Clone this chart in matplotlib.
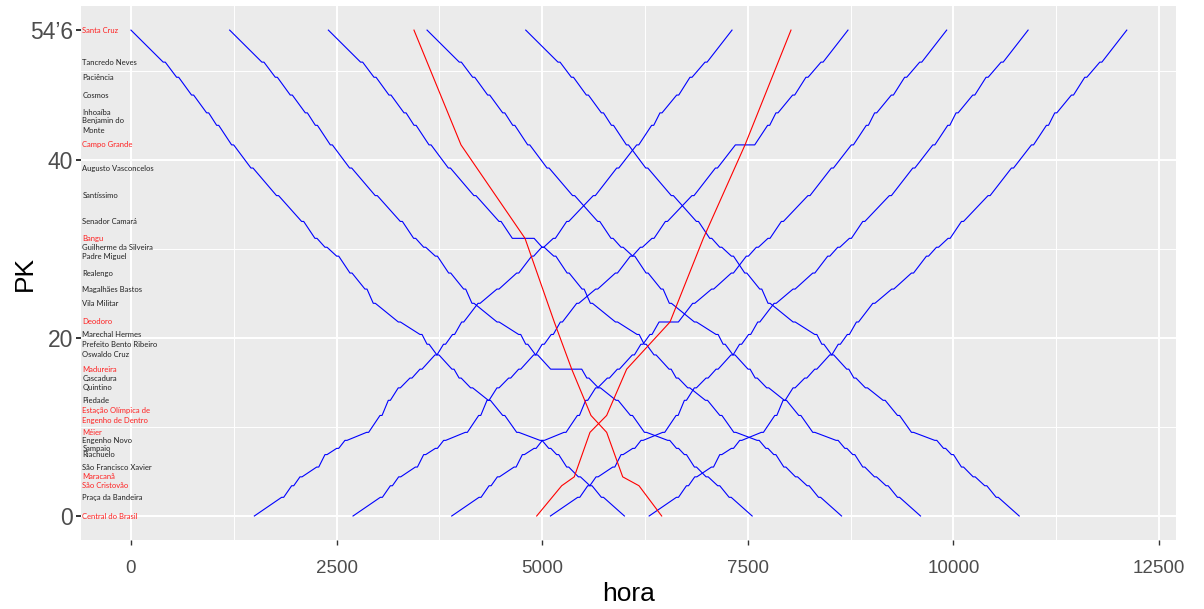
import matplotlib.pyplot as plt

# stations from Central do Brasil (PK 0) up to Santa Cruz
stations = ['Central do Brasil', 'Praça da Bandeira', 'São Cristovão', 'Maracanã',
            'São Francisco Xavier', 'Riachuelo', 'Sampaio', 'Engenho Novo', 'Méier',
            'Estação Olímpica de\nEngenho de Dentro', 'Piedade', 'Quintino', 'Cascadura',
            'Madureira', 'Oswaldo Cruz', 'Prefeito Bento Ribeiro', 'Marechal Hermes',
            'Deodoro', 'Vila Militar', 'Magalhães Bastos', 'Realengo', 'Padre Miguel',
            'Guilherme da Silveira', 'Bangu', 'Senador Camará', 'Santíssimo',
            'Augusto Vasconcelos', 'Campo Grande', 'Benjamin do\nMonte', 'Inhoaíba',
            'Cosmos', 'Paciência', 'Tancredo Neves', 'Santa Cruz']
pk = [0, 2.1, 3.4, 4.4, 5.5, 6.9, 7.6, 8.5, 9.4, 11.3, 13.0, 14.4, 15.5, 16.5, 18.1,
      19.3, 20.4, 21.8, 23.9, 25.5, 27.3, 29.2, 30.2, 31.2, 33.1, 36.0, 39.1, 41.7,
      43.9, 45.3, 47.3, 49.3, 51.0, 54.6]
red_st = [1, 0, 1, 1, 0, 0, 0, 0, 1, 1, 0, 0, 0, 1, 0, 0, 0, 1, 0, 0, 0, 0, 0, 1, 0, 0,
          0, 1, 0, 0, 0, 0, 0, 1]

# stopping trains: time after departure at each station
down_off = [6000, 5720, 5581, 5440, 5298, 5176, 5080, 4973, 4690, 4520, 4345, 4130,
            3990, 3903, 3720, 3600, 3514, 3251, 2946, 2845, 2663, 2501, 2359, 2237,
            2075, 1770, 1459, 1224, 1042, 920, 737, 555, 392, 0]
up_off = [0, 332, 454, 555, 758, 859, 1001, 1102, 1365, 1528, 1629, 1750, 1892, 2014,
          2196, 2300, 2410, 2521, 2720, 2950, 3190, 3372, 3494, 3635, 3798, 4121, 4406,
          4649, 4831, 4932, 5135, 5297, 5480, 5808]
dwell = 25

down_start = [0, 1200, 2400, 3600, 4800]
down_wait_at = [None, 'Madureira', 'Bangu', None, None]
down_wait = [0, 353, 240, 0, 0]
up_start = [1500, 2700, 3900, 5100, 6300]
up_wait_at = [None, 'Campo Grande', 'Deodoro', None, None]
up_wait = [0, 210, 210, 0, 0]

# express trains (red)
red_down_t = [3441, 4013, 4791, 5147, 5359, 5593, 5784, 5979, 6177, 6453]
red_down_pk = [54.6, 41.7, 31.2, 21.8, 16.5, 11.3, 9.4, 4.4, 3.4, 0]
red_up_t = [4933, 5237, 5390, 5581, 5784, 6027, 6554, 6959, 7466, 8025]
red_up_pk = [0, 3.4, 4.4, 9.4, 11.3, 16.5, 21.8, 31.2, 41.7, 54.6]


def path(start, offs, names, pks, wait_at, wait):
    t, y = [], []
    shift = 0
    n = len(offs)
    for i in range(n):
        arr = start + offs[i] + shift
        t.append(arr)
        y.append(pks[i])
        if 0 < i < n - 1:
            dep = arr + dwell
            if names[i] == wait_at:
                dep += wait
                shift += wait
            t.append(dep)
            y.append(pks[i])
    return t, y


fig = plt.figure(figsize=(12.04, 6.09), dpi=100)
ax = fig.add_axes([81.2 / 1204, 1 - 540.3 / 609, (1175.9 - 81.2) / 1204, (540.3 - 5.8) / 609])
ax.set_facecolor('#EBEBEB')
for s in ax.spines.values():
    s.set_visible(False)

for v in [0, 2500, 5000, 7500, 10000, 12500]:
    ax.axvline(v, color='white', lw=1.4, zorder=0)
for v in [1250, 3750, 6250, 8750, 11250]:
    ax.axvline(v, color='white', lw=0.7, zorder=0)
for v in [0, 20, 40]:
    ax.axhline(v, color='white', lw=1.4, zorder=0)
for v in [10, 30, 50]:
    ax.axhline(v, color='white', lw=0.7, zorder=0)

for st, w_at, w in zip(down_start, down_wait_at, down_wait):
    t, y = path(st, down_off[::-1], stations[::-1], pk[::-1], w_at, w)
    ax.plot(t, y, color='#0000FF', lw=0.8, zorder=2)
for st, w_at, w in zip(up_start, up_wait_at, up_wait):
    t, y = path(st, up_off, stations, pk, w_at, w)
    ax.plot(t, y, color='#0000FF', lw=0.8, zorder=2)

ax.plot(red_down_t, red_down_pk, color='#FF0000', lw=0.8, zorder=3)
ax.plot(red_up_t, red_up_pk, color='#FF0000', lw=0.8, zorder=3)

for name, p, r in zip(stations, pk, red_st):
    ax.text(-590, p, name, color='#FF2020' if r else '#222222', fontsize=5.5,
            family='Lato', ha='left', va='center', linespacing=1.4, zorder=4)

ax.set_xlim(-605, 12705)
ax.set_ylim(-2.73, 57.33)
ax.set_xticks([0, 2500, 5000, 7500, 10000, 12500])
ax.set_xticklabels(['0', '2500', '5000', '7500', '10000', '12500'])
ax.set_yticks([0, 20, 40, 54.6])
ax.set_yticklabels(['0', '20', '40', '54’6'])
ax.tick_params(axis='x', labelsize=13.5, colors='#333333', labelcolor='#4D4D4D',
               length=3.5, width=1, pad=11)
ax.tick_params(axis='y', labelsize=16.5, colors='#333333', labelcolor='#4D4D4D',
               length=3.5, width=1.4, pad=2.5)
for lab in ax.get_xticklabels() + ax.get_yticklabels():
    lab.set_family('Liberation Sans')

ax.set_xlabel('hora', fontsize=19, family='Liberation Sans', labelpad=3)
ax.set_ylabel('PK', fontsize=19, family='Liberation Sans', labelpad=-5)

fig.savefig('out.png', dpi=100)
